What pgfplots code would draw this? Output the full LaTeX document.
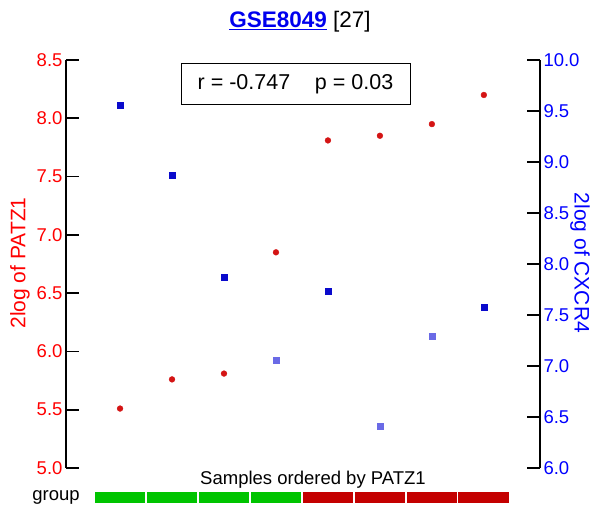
\documentclass[border=0pt]{standalone}
\usepackage{fontspec}
\setmainfont{Liberation Sans}
\usepackage{pgfplots}
\pgfplotsset{compat=1.18}
\definecolor{ptred}{HTML}{D41414}
\definecolor{cxblue}{HTML}{0A0ACC}
\definecolor{cxlight}{HTML}{6A6AE6}
\definecolor{grpgreen}{HTML}{00C400}
\definecolor{grpred}{HTML}{C40000}
\definecolor{labblue}{HTML}{0000FF}
\definecolor{labred}{HTML}{FF0000}
\definecolor{titleblue}{HTML}{0000EE}

\pgfplotsset{common/.style={
  at={(0,0)}, anchor=south west, scale only axis,
  width=474pt, height=408pt,
  xmin=-0.04, xmax=9.08, axis x line=none, clip=false,
  tick align=inside, major tick length=13pt,
  every tick/.style={black, line width=1.8pt},
  axis line style={black, line width=2.6pt},
  yticklabel style={font=\fontsize{18.5}{20}\selectfont,
    /pgf/number format/fixed, /pgf/number format/fixed zerofill,
    /pgf/number format/precision=1, /pgf/number format/assume math mode=true},
}}

\begin{document}
\begin{tikzpicture}
\useasboundingbox (-66pt,-42pt) rectangle (529pt,468pt);

% left axis: PATZ1
\begin{axis}[common, axis y line*=left,
  ymin=5, ymax=8.5, ytick={5,5.5,6,6.5,7,7.5,8,8.5},
  yticklabel style={text=labred}]
\addplot[only marks, mark=*, mark size=2.9pt, color=ptred] coordinates {
  (1,5.51) (2,5.76) (3,5.81) (4,6.85) (5,7.81) (6,7.85) (7,7.95) (8,8.20) };
% group bar
\pgfplotsinvokeforeach{1,2,3,4}{
  \fill[grpgreen, draw=white, line width=1.2pt]
    ([yshift=-23pt]axis cs:#1-0.5,5) rectangle ([yshift=-36pt]axis cs:#1+0.5,5);}
\pgfplotsinvokeforeach{5,6,7,8}{
  \fill[grpred, draw=white, line width=1.2pt]
    ([yshift=-23pt]axis cs:#1-0.5,5) rectangle ([yshift=-36pt]axis cs:#1+0.5,5);}
\end{axis}

% right axis: CXCR4
\begin{axis}[common, axis y line*=right,
  ymin=6, ymax=10, ytick={6,6.5,7,7.5,8,8.5,9,9.5,10},
  yticklabel style={text=labblue}]
\addplot[only marks, mark=square*, mark size=3pt, color=cxblue] coordinates {
  (1,9.56) (2,8.87) (3,7.87) (5,7.73) (8,7.58) };
\addplot[only marks, mark=square*, mark size=3pt, color=cxlight] coordinates {
  (4,7.06) (6,6.41) (7,7.29) };
\end{axis}

\node[font=\fontsize{22.5}{25}\selectfont] at (234pt,446pt)
  {\textcolor{titleblue}{\textbf{\underline{GSE8049}}} [27]};
\node[draw=black, line width=1pt, minimum width=229pt, minimum height=41pt,
  font=\fontsize{21.5}{24}\selectfont] at (229.5pt,383.5pt)
  {r = -0.747\hspace{1.15em}p = 0.03};
\node[rotate=90, text=labred, font=\fontsize{21}{24}\selectfont] at (-46pt,205pt)
  {2log of PATZ1};
\node[rotate=-90, text=labblue, font=\fontsize{21}{24}\selectfont] at (514pt,205pt)
  {2log of CXCR4};
\node[font=\fontsize{18.5}{20}\selectfont] at (247pt,-12pt) {Samples ordered by PATZ1};
\node[font=\fontsize{18.5}{20}\selectfont] at (-10pt,-29pt) {group};
\end{tikzpicture}
\end{document}
